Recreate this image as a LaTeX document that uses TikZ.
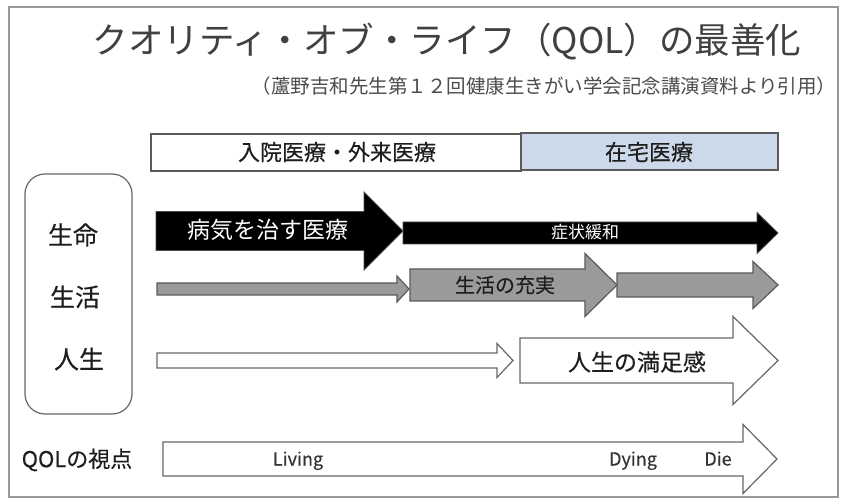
\documentclass[tikz,border=0pt]{standalone}
\usepackage{fontspec}
\setmainfont{Noto Sans CJK JP}
\newfontfamily\medfont[FakeBold=0.3]{Noto Sans CJK JP}
\definecolor{edge}{HTML}{6E6461}
\definecolor{gfill}{HTML}{9A9A9A}
\definecolor{gedge}{HTML}{5A5A5A}
\definecolor{blu}{HTML}{CCD9EA}
\definecolor{txt}{HTML}{1E1E1E}
\newcommand{\blkarr}[8]{%
  \draw[#8] (#2,#5-#6) -- (#3,#5-#6) -- (#3,#5-#7) -- (#4,#5) -- (#3,#5+#7) -- (#3,#5+#6) -- (#2,#5+#6) -- cycle;
  \coordinate (#1) at ({(#2+#3)/2},#5);}
\begin{document}
\begin{tikzpicture}[x=1pt,y=-1pt,
  lbl/.style={text=txt,inner sep=0pt,anchor=center},
  latin/.style={text=black!80,inner sep=0pt,anchor=base,font=\medfont\fontsize{18}{20}\selectfont},
  blackarr/.style={fill=black,draw=black!70,line width=0.8pt},
  grayarr/.style={fill=gfill,draw=gedge,line width=1.2pt},
  whitearr/.style={fill=white,draw=edge,line width=1.2pt},
  topbox/.style={draw=gedge,line width=1.2pt,minimum height=37pt,inner sep=0pt}]
\useasboundingbox (0,0) rectangle (843,502);
\fill[white] (0,0) rectangle (843,502);
\draw[gray!80,line width=1.2pt] (9,7) rectangle (838,497);

% title
\node[lbl,text=black!75,font=\fontsize{35.5}{40}\selectfont] (title) at (447,42) {クオリティ・オブ・ライフ（QOL）の最善化};
\node[lbl,text=black!70,font=\fontsize{19.5}{22}\selectfont] (sub) at (544,86) {（蘆野吉和先生第１２回健康生きがい学会記念講演資料より引用）};

% top boxes
\node[topbox,fill=white,minimum width=370pt] (hosp) at (336,152.5) {};
\node[topbox,fill=blu,minimum width=257pt] (home) at (649.5,151.5) {};
\node[lbl,font=\medfont\fontsize{22}{24}\selectfont] (hospt) at (337,152) {入院医療・外来医療};
\node[lbl,font=\medfont\fontsize{22}{24}\selectfont] (homet) at (649,152) {在宅医療};

% left rounded box
\draw[draw=edge,line width=1.2pt,rounded corners=20pt] (25,174) rectangle (132,414);
\node[lbl,font=\medfont\fontsize{25}{28}\selectfont] (life) at (73,235) {生命};
\node[lbl,font=\medfont\fontsize{25}{28}\selectfont] (live) at (75,297) {生活};
\node[lbl,font=\medfont\fontsize{25}{28}\selectfont] (jinsei) at (79,359) {人生};

% row 1: black arrows
\blkarr{a1}{403}{757}{778}{233}{11}{20.5}{blackarr}
\blkarr{a0}{156}{364}{403}{231}{19.5}{39}{blackarr}
\node[lbl,text=white,font=\fontsize{23}{26}\selectfont] (cure) at (268,230) {病気を治す医療};
\node[lbl,text=white,font=\fontsize{17}{20}\selectfont] (relief) at (585,232) {症状緩和};

% row 2: gray arrows
\blkarr{g1}{157}{397}{409}{289}{6}{13}{grayarr}
\blkarr{g2}{410}{585}{617}{285}{16}{31.5}{grayarr}
\blkarr{g3}{617}{753}{778}{285}{12}{23.5}{grayarr}
\node[lbl,font=\medfont\fontsize{20}{23}\selectfont] (fulfil) at (505,285) {生活の充実};

% row 3: white arrows
\blkarr{w1}{157}{497}{513}{360.5}{7.5}{17}{whitearr}
\blkarr{w2}{520}{733}{778}{360.5}{22.5}{44}{whitearr}
\node[lbl,font=\medfont\fontsize{23}{26}\selectfont] (satis) at (637,362) {人生の満足感};

% QOL row
\blkarr{q}{163}{743}{777}{459}{17}{34.5}{whitearr}
\node[lbl,font=\medfont\fontsize{22}{25}\selectfont] (qol) at (77,460) {QOLの視点};
\node[latin] (living) at (298,465.5) {Living};
\node[latin] (dying) at (633,465.5) {Dying};
\node[latin] (die) at (718,465.5) {Die};
\end{tikzpicture}
\end{document}
